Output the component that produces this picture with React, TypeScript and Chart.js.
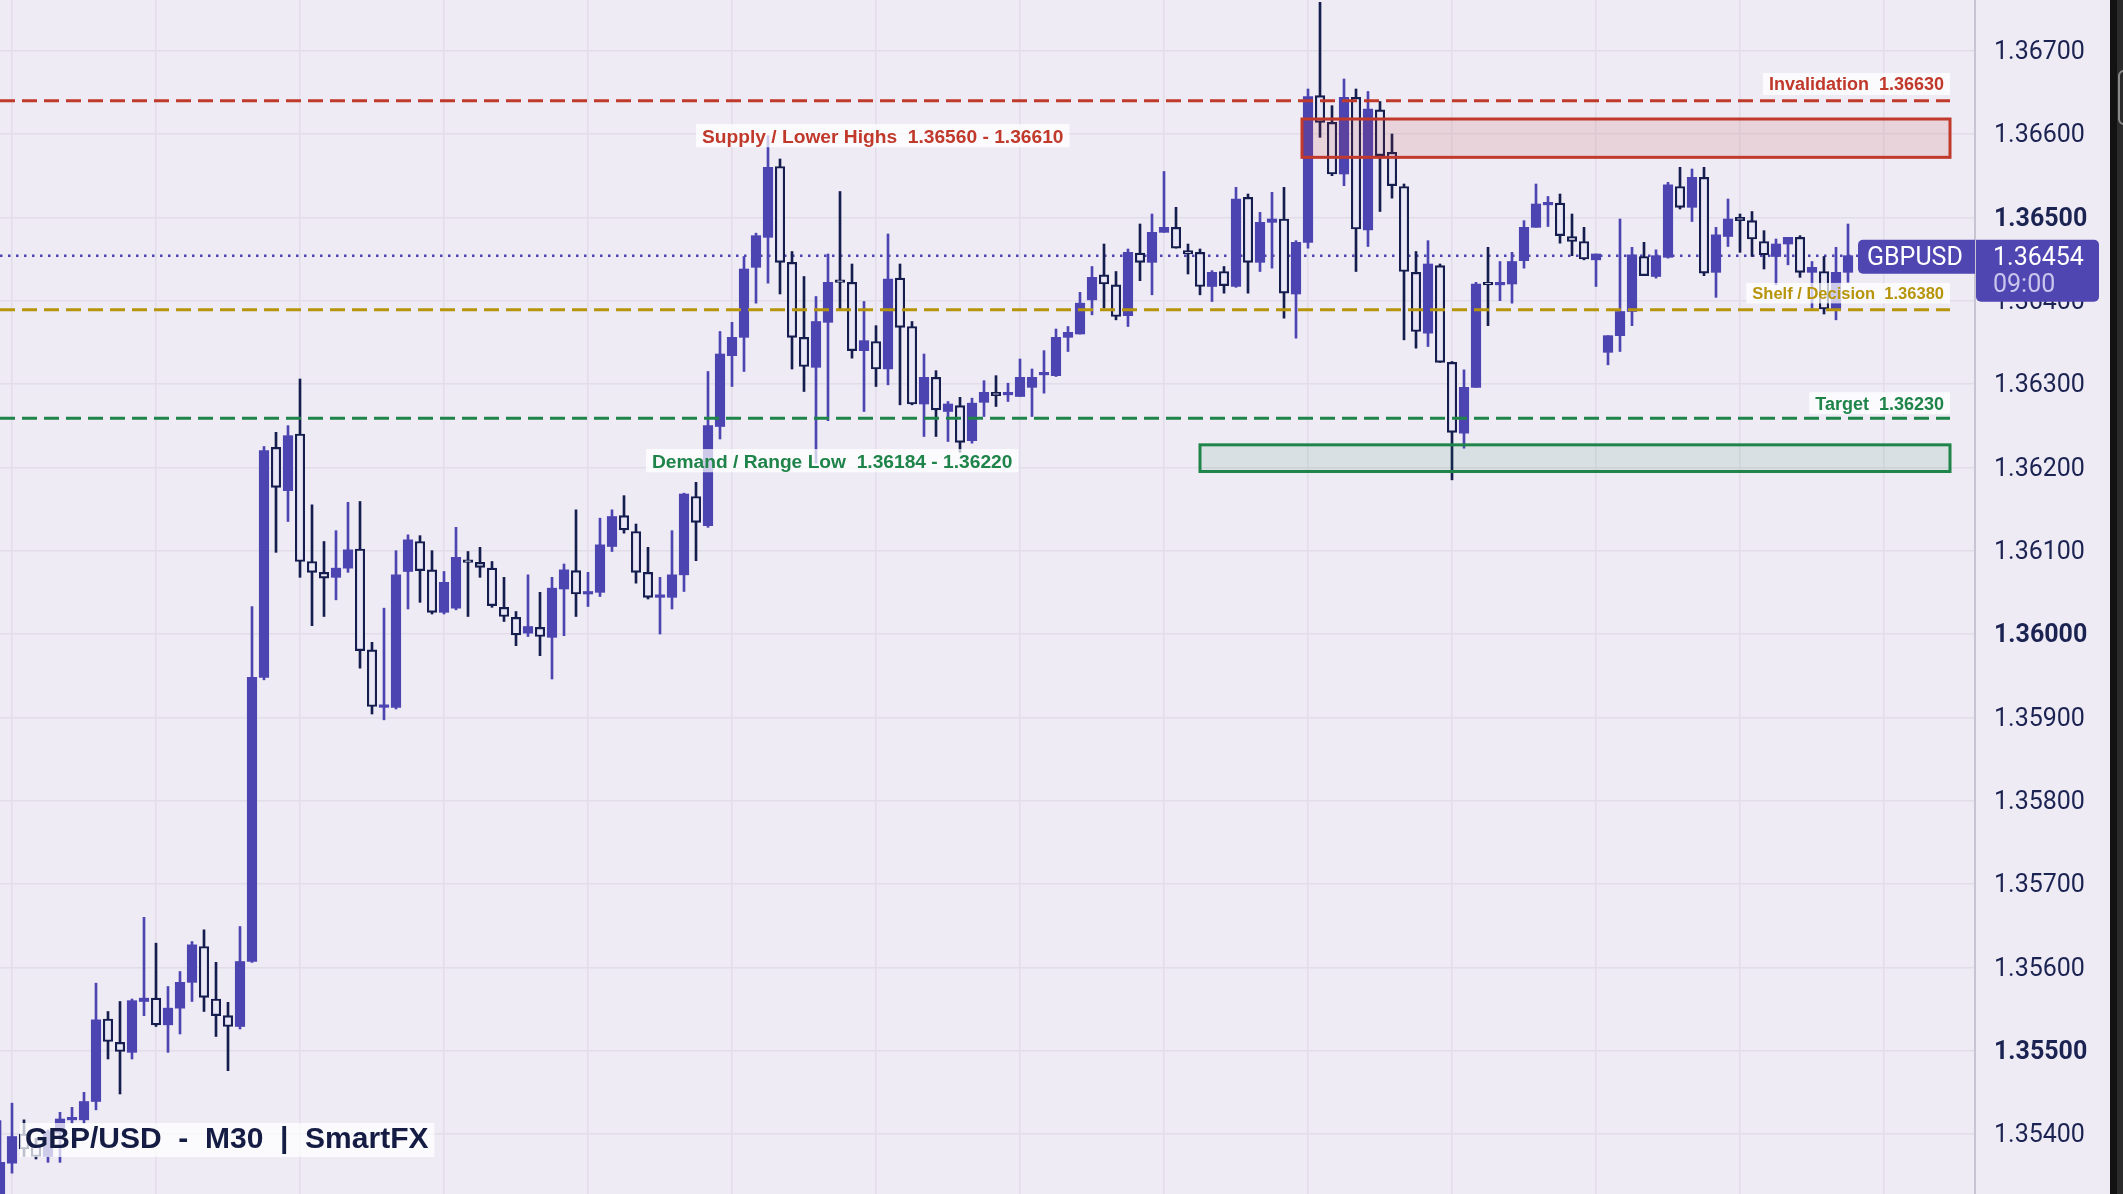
import React, { useEffect, useRef } from 'react';
import { Chart, registerables } from 'chart.js';

Chart.register(...registerables);

const W = 2123;
const H = 1194;

// ---- OHLC data (M30 candles, oldest first; first candle index = -1) ----
const opens = [
  1.35318, 1.35365, 1.354, 1.35386, 1.35373, 1.35401, 1.35417, 1.35417, 1.35439, 1.35538,
  1.3551, 1.35498, 1.35559, 1.35563, 1.35531, 1.35551, 1.35582, 1.35625, 1.35562, 1.35542,
  1.35529, 1.35607, 1.35948, 1.36224, 1.36172, 1.3624, 1.36087, 1.36074, 1.36068, 1.36079,
  1.36102, 1.35981, 1.35912, 1.35912, 1.36075, 1.36111, 1.36077, 1.36026, 1.36031, 1.36088,
  1.36086, 1.36079, 1.36032, 1.3602, 1.36001, 1.36008, 1.35996, 1.36054, 1.36076, 1.36048,
  1.3605, 1.36105, 1.36142, 1.36123, 1.36074, 1.36044, 1.36044, 1.36071, 1.36165, 1.3613,
  1.36249, 1.36334, 1.36356, 1.3644, 1.36476, 1.36561, 1.36446, 1.36356, 1.3632, 1.36374,
  1.36424, 1.36422, 1.3634, 1.36351, 1.36318, 1.36427, 1.36369, 1.36276, 1.36308, 1.36267,
  1.36274, 1.36232, 1.36278, 1.3629, 1.36287, 1.36285, 1.36296, 1.36311, 1.3631, 1.36356,
  1.3636, 1.36401, 1.36431, 1.36419, 1.36382, 1.36457, 1.36446, 1.36482, 1.36488, 1.3646,
  1.36458, 1.36417, 1.36435, 1.36417, 1.36524, 1.36446, 1.36494, 1.36498, 1.36408, 1.3647,
  1.36646, 1.36614, 1.36552, 1.36644, 1.36485, 1.36629, 1.36578, 1.36537, 1.36434, 1.36361,
  1.36442, 1.36326, 1.36241, 1.36296, 1.36421, 1.36419, 1.3642, 1.36448, 1.36488, 1.36515,
  1.36517, 1.36477, 1.36471, 1.36449, 1.36338, 1.36358, 1.36387, 1.36453, 1.36429, 1.36452,
  1.36537, 1.36512, 1.36548, 1.36434, 1.36477, 1.365, 1.36496, 1.36471, 1.36453, 1.36468,
  1.36476, 1.36434, 1.36435, 1.36389, 1.36434,
];
const highs = [
  1.35416, 1.35437, 1.35417, 1.35395, 1.35405, 1.35426, 1.35432, 1.3545, 1.35581, 1.35547,
  1.35559, 1.35562, 1.3566, 1.35629, 1.35577, 1.35595, 1.35631, 1.35645, 1.35606, 1.35558,
  1.35649, 1.36033, 1.36225, 1.36242, 1.3625, 1.36306, 1.36155, 1.36111, 1.36124, 1.36158,
  1.36159, 1.3599, 1.36031, 1.361, 1.36119, 1.36118, 1.361, 1.36075, 1.36128, 1.36099,
  1.36104, 1.36087, 1.36068, 1.36027, 1.36071, 1.3605, 1.36068, 1.36084, 1.36149, 1.36074,
  1.36139, 1.36149, 1.36166, 1.36132, 1.36104, 1.36068, 1.36124, 1.36169, 1.36182, 1.36315,
  1.36363, 1.36374, 1.36453, 1.36481, 1.36598, 1.3657, 1.36459, 1.36429, 1.36405, 1.36456,
  1.36531, 1.36444, 1.36399, 1.3637, 1.3648, 1.36444, 1.36375, 1.36336, 1.36316, 1.36279,
  1.36284, 1.36283, 1.36304, 1.3631, 1.36301, 1.3633, 1.36318, 1.3634, 1.36366, 1.36369,
  1.3641, 1.36441, 1.36468, 1.36435, 1.36462, 1.36492, 1.36504, 1.36555, 1.36512, 1.36468,
  1.36462, 1.36436, 1.36441, 1.36536, 1.36528, 1.36506, 1.3653, 1.36536, 1.36472, 1.36654,
  1.36758, 1.36634, 1.36666, 1.36654, 1.36651, 1.36639, 1.366, 1.3654, 1.36459, 1.36472,
  1.36444, 1.36327, 1.36317, 1.36422, 1.36464, 1.36447, 1.36458, 1.36496, 1.3654, 1.36525,
  1.36528, 1.36504, 1.36488, 1.36456, 1.36358, 1.36498, 1.36464, 1.3647, 1.36461, 1.36542,
  1.3656, 1.36558, 1.3656, 1.36488, 1.36522, 1.36504, 1.36507, 1.36484, 1.36474, 1.36476,
  1.36478, 1.36447, 1.36453, 1.36464, 1.36492,
];
const lows = [
  1.35305, 1.35353, 1.35373, 1.3537, 1.35366, 1.35366, 1.35413, 1.35413, 1.35429, 1.3549,
  1.35448, 1.3549, 1.35542, 1.35529, 1.35498, 1.3552, 1.35559, 1.35547, 1.35517, 1.35476,
  1.35526, 1.35606, 1.35945, 1.36098, 1.36135, 1.36068, 1.3601, 1.36021, 1.36041, 1.36074,
  1.35959, 1.35904, 1.35897, 1.3591, 1.3603, 1.36038, 1.36024, 1.36024, 1.36029, 1.36021,
  1.36068, 1.36032, 1.36015, 1.35986, 1.35997, 1.35974, 1.35946, 1.35998, 1.36021, 1.36033,
  1.36045, 1.36099, 1.36121, 1.36061, 1.36042, 1.36, 1.3603, 1.36051, 1.36088, 1.36128,
  1.36234, 1.36297, 1.36315, 1.36397, 1.36421, 1.36408, 1.36318, 1.36291, 1.36205, 1.36256,
  1.36389, 1.36331, 1.36267, 1.36297, 1.36299, 1.36275, 1.36275, 1.36237, 1.36237, 1.36231,
  1.36218, 1.36229, 1.36261, 1.36273, 1.36279, 1.36285, 1.36261, 1.36289, 1.36309, 1.36339,
  1.3636, 1.36383, 1.36391, 1.36377, 1.36369, 1.36424, 1.36407, 1.36482, 1.36463, 1.36432,
  1.36407, 1.36399, 1.36409, 1.36416, 1.36409, 1.36435, 1.36439, 1.36379, 1.36355, 1.36463,
  1.36596, 1.3655, 1.36538, 1.36435, 1.36465, 1.36507, 1.36523, 1.36353, 1.36343, 1.36345,
  1.36326, 1.36185, 1.36223, 1.36296, 1.3637, 1.364, 1.36397, 1.36439, 1.36488, 1.36489,
  1.36469, 1.36454, 1.36449, 1.36417, 1.36323, 1.36339, 1.3637, 1.3643, 1.36427, 1.36451,
  1.3651, 1.36495, 1.3643, 1.36404, 1.36465, 1.36458, 1.36453, 1.36438, 1.36419, 1.36443,
  1.36428, 1.36391, 1.36384, 1.36377, 1.36422,
];
const closes = [
  1.35366, 1.35397, 1.35382, 1.35373, 1.35403, 1.35418, 1.35419, 1.35439, 1.35537, 1.35511,
  1.35499, 1.3556, 1.35563, 1.35531, 1.35551, 1.35582, 1.35627, 1.35564, 1.35542, 1.35529,
  1.35607, 1.35948, 1.3622, 1.36176, 1.36238, 1.36087, 1.36074, 1.36067, 1.36079, 1.36101,
  1.3598, 1.35913, 1.35914, 1.36071, 1.36113, 1.36076, 1.36026, 1.36062, 1.36092, 1.36086,
  1.3608, 1.36034, 1.36021, 1.35999, 1.36009, 1.35997, 1.36055, 1.36077, 1.36048, 1.3605,
  1.36107, 1.36141, 1.36125, 1.36074, 1.36044, 1.36046, 1.36071, 1.36168, 1.36134, 1.3625,
  1.36336, 1.36356, 1.36438, 1.36478, 1.3656, 1.36446, 1.36356, 1.36321, 1.36375, 1.36422,
  1.36422, 1.3634, 1.36352, 1.36318, 1.36426, 1.36368, 1.36276, 1.36308, 1.36269, 1.36276,
  1.3623, 1.36277, 1.3629, 1.36286, 1.36289, 1.36308, 1.36308, 1.36314, 1.36356, 1.36362,
  1.36397, 1.36428, 1.3642, 1.36381, 1.36458, 1.36446, 1.36482, 1.36488, 1.36463, 1.36456,
  1.36417, 1.36434, 1.36418, 1.36522, 1.36446, 1.36494, 1.36498, 1.36409, 1.3647, 1.36645,
  1.36614, 1.36552, 1.36644, 1.36486, 1.3663, 1.36574, 1.36538, 1.36435, 1.36363, 1.36444,
  1.36326, 1.36242, 1.36296, 1.3642, 1.36419, 1.36421, 1.36447, 1.36488, 1.36516, 1.36517,
  1.36478, 1.36471, 1.3645, 1.36456, 1.36358, 1.36387, 1.36455, 1.3643, 1.36454, 1.36539,
  1.36512, 1.36548, 1.36433, 1.36479, 1.36498, 1.36496, 1.36474, 1.36455, 1.36468, 1.36476,
  1.36434, 1.3644, 1.3639, 1.36434, 1.36454,
];
const firstCandleIndex = -1;

// ---- axis ----
const yTickValues = [1.354, 1.355, 1.356, 1.357, 1.358, 1.359, 1.36, 1.361, 1.362, 1.363, 1.364, 1.365, 1.366, 1.367];
const yBoldTicks = [1.355, 1.36, 1.365];
const xGridIndices = [0, 12, 24, 36, 48, 60, 72, 84, 96, 108, 120, 132, 144, 156];
const Y_MIN = 1.35328;
const Y_MAX = 1.367608;
const X_MIN = -1;
const X_MAX = 163.583;

// ---- annotations ----
const zoneNames = ['Supply / Lower Highs', 'Demand / Range Low'];
const zoneRangeText = ['1.36560 - 1.36610', '1.36184 - 1.36220'];
const zoneLow = [1.36572, 1.36195];
const zoneHigh = [1.36618, 1.36227];
const zoneStartIndex = [107.5, 99];
const zoneEndIndex = [161.5, 161.5];
const zoneLabelIndex = [57.0, 52.83];
const zoneLabelPrice = [1.36598, 1.36208];

const levelNames = ['Invalidation', 'Shelf / Decision', 'Target'];
const levelValueText = ['1.36630', '1.36380', '1.36230'];
const levelPrice = [1.3664, 1.36389, 1.36259];
const levelLabelPrice = [1.3666, 1.36409, 1.36277];
const levelEndIndex = 161.5;

const titleText = 'GBP/USD  -  M30  |  SmartFX';
const symbolText = 'GBPUSD';
const countdownText = '09:00';

// ---- styles ----
const BG = '#efebf5';
const GRID = '#e2dde9';
const AXIS_LINE = '#c9c4d2';
const TICK_COLOR = '#1b2352';
const INDIGO = '#4c44b1';
const NAVY = '#151d4e';
const HOLLOW = '#e9e7f5';
const RED = '#c0392b';
const GOLD = '#b7950b';
const GREEN = '#1e8449';
const TAG = '#5046b2';
const AXIS_FONT = 'Roboto';
const LABEL_FONT = '"Liberation Sans", Arial, sans-serif';

const zoneColors = [RED, GREEN];
const zoneFills = ['rgba(192,57,43,0.13)', 'rgba(30,132,73,0.10)'];
const levelColors = [RED, GOLD, GREEN];
const levelFontSizes = [18, 16.5, 18];

function drawTag(
  ctx: CanvasRenderingContext2D,
  text: string,
  size: number,
  color: string,
  x: number,
  yc: number,
  align: 'left' | 'right'
) {
  ctx.font = `bold ${size}px ${LABEL_FONT}`;
  const tw = ctx.measureText(text).width;
  const padX = 6;
  const bw = tw + padX * 2;
  const bh = size + 4;
  const bx = align === 'left' ? x : x - bw;
  ctx.fillStyle = 'rgba(255,255,255,0.72)';
  ctx.fillRect(bx, yc - bh / 2, bw, bh);
  ctx.fillStyle = color;
  ctx.textAlign = 'left';
  ctx.textBaseline = 'alphabetic';
  ctx.fillText(text, bx + padX, yc + size * 0.36);
}

const annotPlugin = {
  id: 'tradeAnnotations',
  beforeDatasetsDraw(chart: any) {
    const { ctx, chartArea } = chart;
    const y = chart.scales.y.getPixelForValue(closes[closes.length - 1]);
    ctx.save();
    ctx.beginPath();
    ctx.rect(chartArea.left, chartArea.top, chartArea.right - chartArea.left, chartArea.bottom - chartArea.top);
    ctx.clip();
    ctx.strokeStyle = INDIGO;
    ctx.lineWidth = 2.5;
    ctx.setLineDash([2.5, 5.5]);
    ctx.beginPath();
    ctx.moveTo(chartArea.left, y);
    ctx.lineTo(chartArea.right, y);
    ctx.stroke();
    ctx.restore();
  },
  afterDatasetsDraw(chart: any) {
    const { ctx, chartArea } = chart;
    const xs = chart.scales.x;
    const ys = chart.scales.y;
    ctx.save();
    ctx.beginPath();
    ctx.rect(chartArea.left, chartArea.top, chartArea.right - chartArea.left, chartArea.bottom - chartArea.top);
    ctx.clip();
    // zones
    zoneNames.forEach((_, i) => {
      const x1 = xs.getPixelForValue(zoneStartIndex[i]);
      const x2 = xs.getPixelForValue(zoneEndIndex[i]);
      const y1 = ys.getPixelForValue(zoneHigh[i]);
      const y2 = ys.getPixelForValue(zoneLow[i]);
      ctx.fillStyle = zoneFills[i];
      ctx.fillRect(x1, y1, x2 - x1, y2 - y1);
      ctx.strokeStyle = zoneColors[i];
      ctx.lineWidth = 3;
      ctx.setLineDash([]);
      ctx.strokeRect(x1, y1, x2 - x1, y2 - y1);
    });
    // levels
    levelNames.forEach((_, i) => {
      const y = ys.getPixelForValue(levelPrice[i]);
      ctx.strokeStyle = levelColors[i];
      ctx.lineWidth = 3;
      ctx.setLineDash([15, 7]);
      ctx.beginPath();
      ctx.moveTo(chartArea.left, y);
      ctx.lineTo(xs.getPixelForValue(levelEndIndex), y);
      ctx.stroke();
    });
    ctx.setLineDash([]);
    // labels
    levelNames.forEach((name, i) => {
      drawTag(
        ctx,
        `${name}  ${levelValueText[i]}`,
        levelFontSizes[i],
        levelColors[i],
        xs.getPixelForValue(levelEndIndex),
        ys.getPixelForValue(levelLabelPrice[i]),
        'right'
      );
    });
    zoneNames.forEach((name, i) => {
      drawTag(
        ctx,
        `${name}  ${zoneRangeText[i]}`,
        19.2,
        zoneColors[i],
        xs.getPixelForValue(zoneLabelIndex[i]),
        ys.getPixelForValue(zoneLabelPrice[i]),
        'left'
      );
    });
    ctx.restore();
  },
  afterDraw(chart: any) {
    const { ctx, chartArea } = chart;
    const ys = chart.scales.y;
    ctx.save();
    // title
    ctx.font = `bold 30px ${LABEL_FONT}`;
    const tw = ctx.measureText(titleText).width;
    ctx.fillStyle = 'rgba(255,255,255,0.72)';
    ctx.fillRect(20, 1123, tw + 11, 34);
    ctx.fillStyle = '#141c44';
    ctx.textAlign = 'left';
    ctx.textBaseline = 'alphabetic';
    ctx.fillText(titleText, 25, 1148);

    // price tags
    const last = closes[closes.length - 1];
    const yP = ys.getPixelForValue(last);
    const axisX = chartArea.right;
    ctx.fillStyle = TAG;
    ctx.beginPath();
    (ctx as any).roundRect(axisX - 117, yP - 16, 117, 34, [5, 0, 0, 5]);
    ctx.fill();
    ctx.beginPath();
    (ctx as any).roundRect(axisX + 1, yP - 16, 123, 62, [0, 5, 5, 5]);
    ctx.fill();
    ctx.font = `25px ${AXIS_FONT}`;
    ctx.fillStyle = '#ffffff';
    ctx.fillText(symbolText, axisX - 108, yP + 9);
    ctx.font = `25px ${AXIS_FONT}`;
    ctx.fillText(last.toFixed(5), axisX + 18, yP + 9);
    ctx.fillStyle = '#c9c5ec';
    ctx.fillText(countdownText, axisX + 18, yP + 36);

    // right window edge strip
    ctx.fillStyle = '#121212';
    ctx.fillRect(2110, 0, 7, H);
    ctx.fillStyle = '#2b2b2b';
    ctx.fillRect(2117, 0, 6, H);
    ctx.strokeStyle = '#8a8a8a';
    ctx.lineWidth = 2;
    ctx.beginPath();
    (ctx as any).roundRect(2119, 71, 12, 53, 5);
    ctx.stroke();
    ctx.restore();
  },
};

export default function App() {
  const ref = useRef<HTMLCanvasElement>(null);
  useEffect(() => {
    document.body.style.margin = '0';
    const canvas = ref.current;
    if (!canvas) return;
    const xs = opens.map((_, i) => i + firstCandleIndex);
    const up = opens.map((o, i) => closes[i] >= o);
    const chart = new Chart(canvas, {
      type: 'bar',
      data: {
        datasets: [
          {
            label: 'bodies',
            data: xs.map((x, i) => ({ x, y: [opens[i], closes[i]] })) as any,
            backgroundColor: up.map((u) => (u ? INDIGO : HOLLOW)),
            borderColor: up.map((u) => (u ? INDIGO : NAVY)),
            borderWidth: up.map((u) => (u ? 0 : 2.2)),
            borderSkipped: false,
            barThickness: 9.5,
            minBarLength: 2.5,
            grouped: false,
            order: 1,
          } as any,
          {
            label: 'wicks',
            data: xs.map((x, i) => ({ x, y: [lows[i], highs[i]] })) as any,
            backgroundColor: up.map((u) => (u ? INDIGO : NAVY)),
            borderWidth: 0,
            barThickness: 2,
            grouped: false,
            order: 2,
          } as any,
        ],
      },
      options: {
        responsive: false,
        animation: false,
        devicePixelRatio: 1,
        layout: { padding: { left: 0, right: 13, top: 0, bottom: 0 } },
        plugins: {
          legend: { display: false },
          tooltip: { enabled: false },
        },
        scales: {
          x: {
            type: 'linear',
            min: X_MIN,
            max: X_MAX,
            offset: false,
            grid: { color: GRID, lineWidth: 1.5, drawTicks: false, offset: false },
            border: { display: false },
            ticks: { display: false },
            afterBuildTicks: (s: any) => {
              s.ticks = xGridIndices.map((v) => ({ value: v }));
            },
            afterFit: (s: any) => {
              s.height = 0;
              s.paddingLeft = 0;
              s.paddingRight = 0;
            },
          },
          y: {
            type: 'linear',
            position: 'right',
            min: Y_MIN,
            max: Y_MAX,
            grid: { color: GRID, lineWidth: 1.5, drawTicks: false },
            border: { display: true, color: AXIS_LINE, width: 2 },
            ticks: {
              padding: 19,
              labelOffset: 2,
              color: TICK_COLOR,
              font: (c: any) => {
                const v = c.tick ? c.tick.value : 0;
                const bold = yBoldTicks.some((b) => Math.abs(b - v) < 1e-7);
                return { family: AXIS_FONT, size: 25, weight: bold ? 'bold' : 'normal' };
              },
              callback: (v: any) => Number(v).toFixed(5),
            },
            afterBuildTicks: (s: any) => {
              s.ticks = yTickValues.map((v) => ({ value: v }));
            },
            afterFit: (s: any) => {
              s.width = 135;
              s.paddingTop = 0;
              s.paddingBottom = 0;
            },
          },
        },
      } as any,
      plugins: [annotPlugin],
    });
    return () => chart.destroy();
  }, []);
  return (
    <div style={{ position: 'relative', width: W, height: H, background: BG, overflow: 'hidden' }}>
      <canvas ref={ref} width={W} height={H} style={{ display: 'block', width: W, height: H }} />
    </div>
  );
}
